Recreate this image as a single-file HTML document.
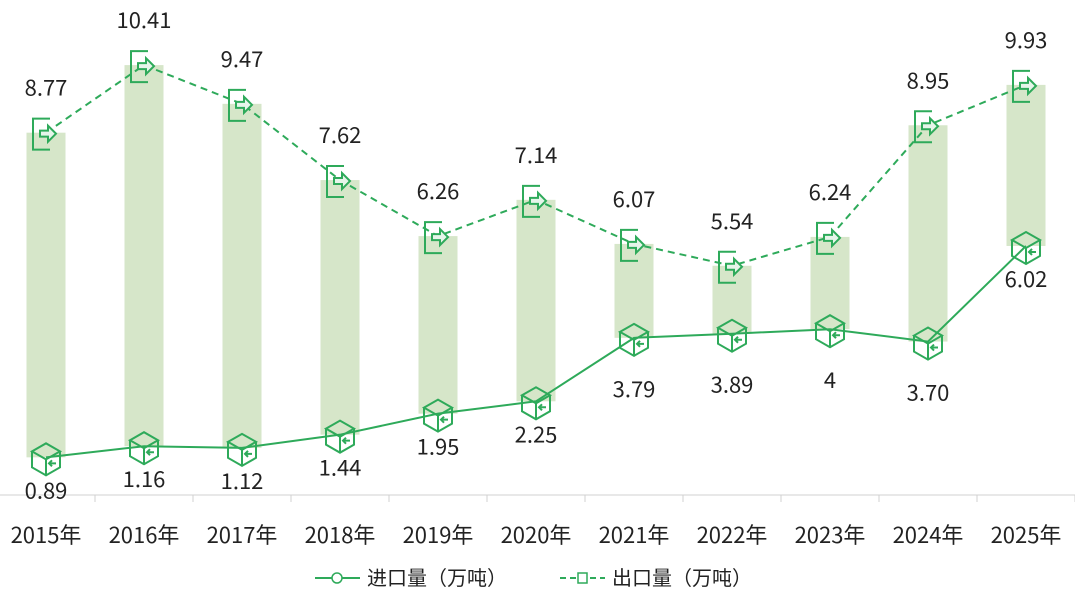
<!DOCTYPE html>
<html><head><meta charset="utf-8"><style>
html,body{margin:0;padding:0;background:#fff;width:1075px;height:595px;overflow:hidden}
text{font-family:"Noto Sans CJK SC","Liberation Sans",sans-serif}
</style></head><body>
<svg id="c" width="1075" height="595" xmlns="http://www.w3.org/2000/svg"></svg>
<script>
const years=["2015年","2016年","2017年","2018年","2019年","2020年","2021年","2022年","2023年","2024年","2025年"];
const imp=[0.89,1.16,1.12,1.44,1.95,2.25,3.79,3.89,4,3.70,6.02];
const impL=["0.89","1.16","1.12","1.44","1.95","2.25","3.79","3.89","4","3.70","6.02"];
const exp=[8.77,10.41,9.47,7.62,6.26,7.14,6.07,5.54,6.24,8.95,9.93];
const expL=["8.77","10.41","9.47","7.62","6.26","7.14","6.07","5.54","6.24","8.95","9.93"];
const X=i=>46+i*98, Y=v=>494-v*41.2, G="#2eaa5a";
let s="";
for(let i=0;i<11;i++){s+=`<rect x="${X(i)-19.5}" y="${Y(exp[i])}" width="39" height="${Y(imp[i])-Y(exp[i])}" fill="#d6e6c9"/>`;}
s+=`<line x1="0" y1="495" x2="1075" y2="495" stroke="#d0d0d0"/>`;
for(let i=0;i<=11;i++){s+=`<line x1="${X(i)-49}" y1="495" x2="${X(i)-49}" y2="502" stroke="#d0d0d0"/>`;}
s+=`<polyline points="${imp.map((v,i)=>X(i)+','+Y(v)).join(' ')}" fill="none" stroke="${G}" stroke-width="2"/>`;
s+=`<polyline points="${exp.map((v,i)=>X(i)+','+Y(v)).join(' ')}" fill="none" stroke="${G}" stroke-width="2" stroke-dasharray="7,5"/>`;
function box(x,y){return `<g transform="translate(${x},${y})" fill="none" stroke="${G}" stroke-width="2"><path d="M-14,-6 L0,-14 L14,-6 L0,2 Z"/><path d="M-14,-6 L-14,10 L0,18 L14,10 L14,-6"/><path d="M0,2 L0,18"/><path d="M10,6 L3,6 M6,3 L3,6 L6,9"/></g>`;}
function door(x,y){return `<g transform="translate(${x},${y})" fill="none" stroke="${G}" stroke-width="2"><path d="M4,-14 L-13,-14 L-13,17 L4,17"/><path d="M-6,-2 L2,-2 L2,-7 L10,1 L2,9 L2,4 L-6,4 Z" fill="#e6f5ea"/></g>`;}
for(let i=0;i<11;i++){
 s+=box(X(i),Y(imp[i]));s+=door(X(i),Y(exp[i]));
 s+=`<text x="${X(i)}" y="${Y(exp[i])-37}" font-size="22" text-anchor="middle" fill="#222">${expL[i]}</text>`;
 const off=(i>=6&&i<=9)?59:41;
 s+=`<text x="${X(i)}" y="${Y(imp[i])+off}" font-size="22" text-anchor="middle" fill="#222">${impL[i]}</text>`;
 s+=`<text x="${X(i)}" y="543" font-size="22" text-anchor="middle" fill="#222">${years[i]}</text>`;
}
s+=`<line x1="315" y1="578" x2="360" y2="578" stroke="${G}" stroke-width="2"/><circle cx="337" cy="578" r="5" fill="#fff" stroke="${G}" stroke-width="1.5"/>`;
s+=`<text x="367" y="585" font-size="20" fill="#222">进口量（万吨）</text>`;
s+=`<line x1="560" y1="578" x2="605" y2="578" stroke="${G}" stroke-width="2" stroke-dasharray="6,4"/><rect x="578" y="573" width="9" height="10" fill="#fff" stroke="${G}" stroke-width="1.5"/>`;
s+=`<text x="612" y="585" font-size="20" fill="#222">出口量（万吨）</text>`;
document.getElementById("c").innerHTML=s;
</script>
</body></html>
